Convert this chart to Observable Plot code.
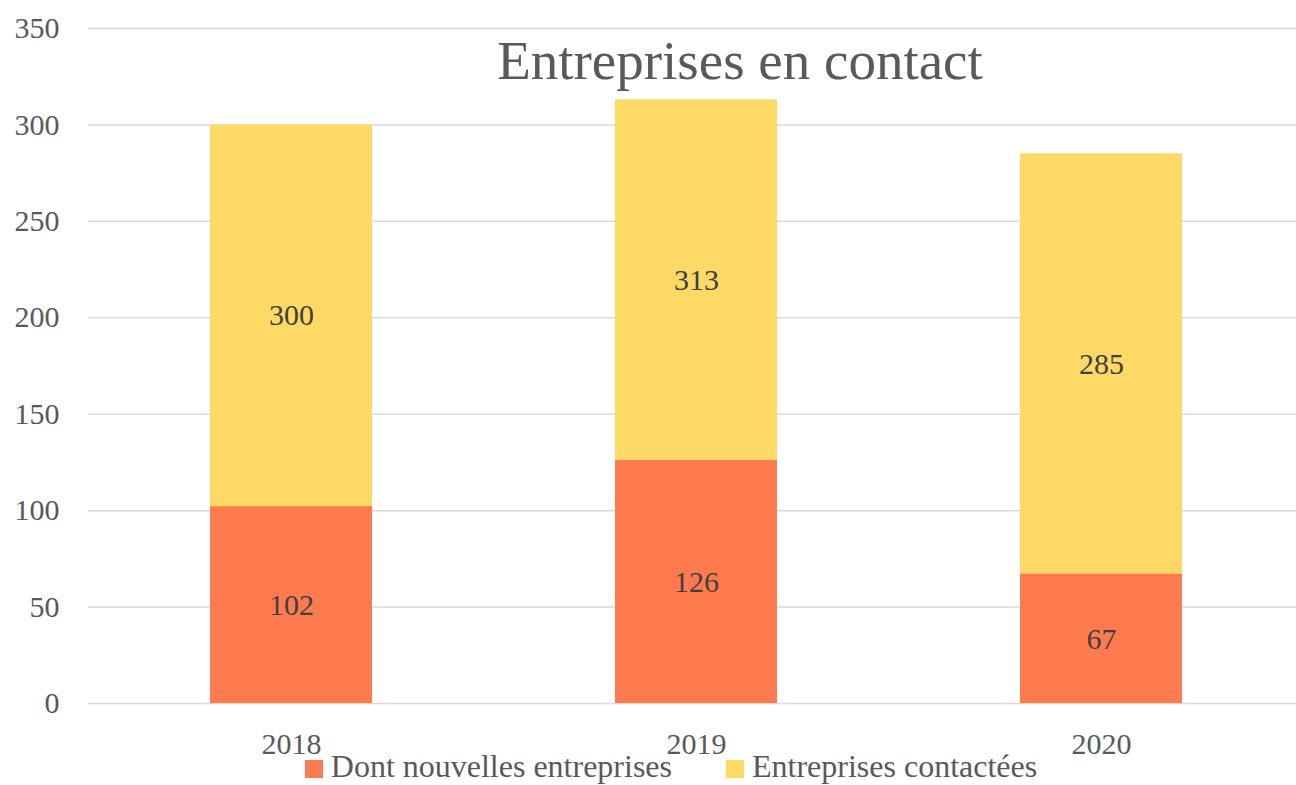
<!DOCTYPE html>
<html>
<head>
<meta charset="utf-8">
<script src="https://cdn.jsdelivr.net/npm/d3@7"></script>
<script src="https://cdn.jsdelivr.net/npm/@observablehq/plot@0.6"></script>
<style>
  html, body { margin: 0; padding: 0; background: #fff; }
  #wrap { position: relative; width: 1296px; height: 785px; overflow: hidden; font-family: "Liberation Serif", serif; }
  #title { position: absolute; left: 0; width: 1480px; top: 29px; text-align: center; font-size: 55px; color: #595959; }
  #legend { position: absolute; left: 0; width: 1342px; top: 748px; text-align: center; font-size: 32px; color: #595959; white-space: nowrap; }
  .sw { display: inline-block; width: 18px; height: 18px; margin-right: 8px; vertical-align: -1px; }
  .item { margin: 0 27px; }
</style>
</head>
<body>
<div id="wrap">
  <div id="chart"></div>
  <div id="title">Entreprises en contact</div>
  <div id="legend"></div>
</div>
<script>
const years = ["2018", "2019", "2020"];
const contactees = [300, 313, 285];
const nouvelles = [102, 126, 67];
const seriesNames = ["Dont nouvelles entreprises", "Entreprises contactées"];
const seriesColors = ["#FF7B4F", "#FFD966"];
const yTicks = [0, 50, 100, 150, 200, 250, 300, 350];

const rows = years.map((y, i) => ({ year: y, c: contactees[i], n: nouvelles[i] }));

const chart = Plot.plot({
  width: 1296,
  height: 785,
  marginLeft: 88,
  marginRight: 0,
  marginTop: 28,
  marginBottom: 82,
  style: { fontFamily: "Liberation Serif, serif", background: "#fff", overflow: "visible" },
  x: { type: "band", domain: years, range: [88, 1304], paddingInner: 0.6, paddingOuter: 0.3, label: null },
  y: { domain: [0, 350], label: null },
  marks: [
    Plot.gridY(yTicks, { stroke: "#d9d9d9", strokeOpacity: 1, strokeWidth: 1.5 }),
    Plot.axisY(yTicks, { tickSize: 0, tickPadding: 29, fontSize: 30, fill: "#595959", label: null }),
    Plot.axisX({ tickSize: 0, tickPadding: 29, fontSize: 30, fill: "#595959", label: null }),
    Plot.barY(rows, { x: "year", y: "c", fill: seriesColors[1] }),
    Plot.barY(rows, { x: "year", y: "n", fill: seriesColors[0] }),
    Plot.text(rows, { x: "year", y: d => (d.c + d.n) / 2, text: d => String(d.c), fontSize: 30, fill: "#404040" }),
    Plot.text(rows, { x: "year", y: d => d.n / 2, text: d => String(d.n), fontSize: 30, fill: "#404040" })
  ]
});
document.getElementById("chart").appendChild(chart);

const legend = document.getElementById("legend");
seriesNames.forEach((name, i) => {
  const item = document.createElement("span");
  item.className = "item";
  const sw = document.createElement("span");
  sw.className = "sw";
  sw.style.background = seriesColors[i];
  item.appendChild(sw);
  item.appendChild(document.createTextNode(name));
  legend.appendChild(item);
});
</script>
</body>
</html>
